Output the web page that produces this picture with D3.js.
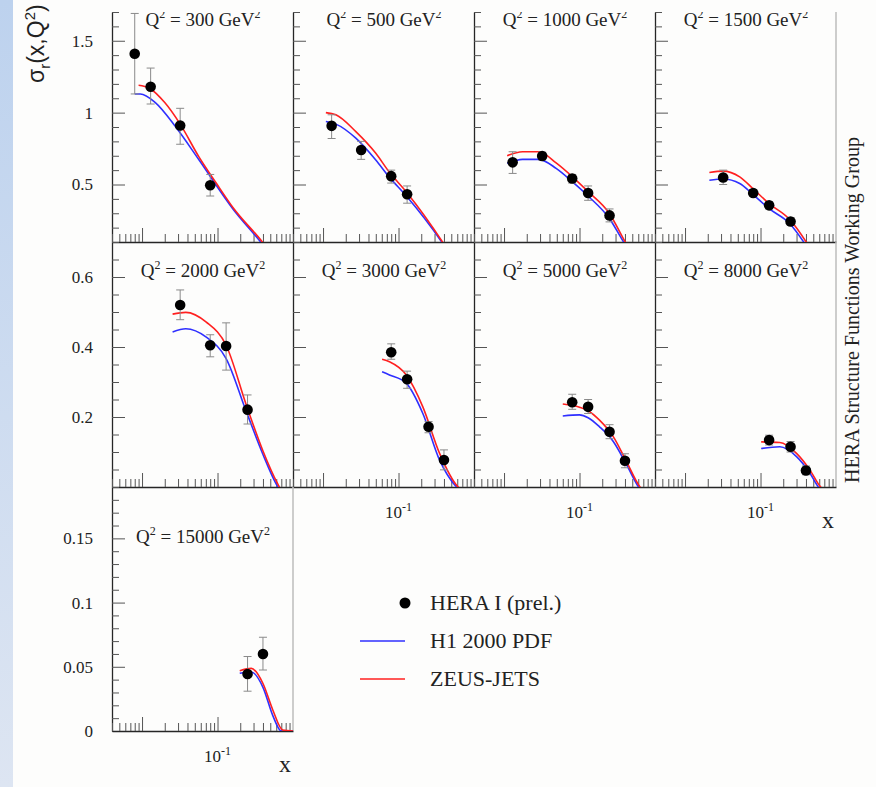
<!DOCTYPE html>
<html>
<head>
<meta charset="utf-8">
<script src="https://cdn.jsdelivr.net/npm/d3@7/dist/d3.min.js"></script>
<style>
  html, body { margin: 0; padding: 0; background: #fdfdfc; }
  svg { display: block; }
</style>
</head>
<body>
<svg id="chart" width="876" height="787"></svg>
<script>
(function () {
    // Q^2 per panel (GeV^2), in reading order
    var q2Values = [300, 500, 1000, 1500, 2000, 3000, 5000, 8000, 15000];

    // HERA I (prel.) points: [x, sigma_r, low end of error bar, high end]
    var heraPoints = [
        [[0.008, 1.41, 1.13, 1.69], [0.013, 1.18, 1.06, 1.31], [0.032, 0.91, 0.78, 1.03], [0.08, 0.495, 0.42, 0.57]],
        [[0.013, 0.908, 0.82, 0.985], [0.032, 0.74, 0.675, 0.80], [0.08, 0.558, 0.51, 0.60], [0.13, 0.432, 0.37, 0.49]],
        [[0.013, 0.654, 0.577, 0.728], [0.032, 0.698, 0.67, 0.725], [0.08, 0.542, 0.51, 0.57], [0.13, 0.441, 0.39, 0.49], [0.25, 0.285, 0.24, 0.33]],
        [[0.032, 0.549, 0.50, 0.60], [0.08, 0.441, 0.42, 0.465], [0.13, 0.355, 0.33, 0.38], [0.25, 0.243, 0.22, 0.27]],
        [[0.032, 0.52, 0.478, 0.563], [0.08, 0.405, 0.372, 0.435], [0.13, 0.403, 0.334, 0.469], [0.25, 0.221, 0.18, 0.263]],
        [[0.08, 0.385, 0.365, 0.409], [0.13, 0.308, 0.282, 0.331], [0.25, 0.172, 0.155, 0.187], [0.40, 0.077, 0.049, 0.106]],
        [[0.08, 0.242, 0.222, 0.265], [0.13, 0.229, 0.21, 0.25], [0.25, 0.158, 0.138, 0.178], [0.40, 0.075, 0.055, 0.095]],
        [[0.13, 0.134, 0.12, 0.148], [0.25, 0.115, 0.10, 0.13], [0.40, 0.047, 0.035, 0.06]],
        [[0.25, 0.0444, 0.031, 0.058], [0.40, 0.060, 0.0475, 0.073]]
    ];

    // H1 2000 PDF (blue): [x, sigma_r]
    var h1Curves = [
        [[0.008, 1.13], [0.0095, 1.13], [0.015, 1.07], [0.028, 0.90], [0.057, 0.67], [0.16, 0.33], [0.38, 0.095], [0.43, 0.06]],
        [[0.0109, 0.938], [0.0148, 0.92], [0.0272, 0.822], [0.05, 0.67], [0.075, 0.553], [0.127, 0.42], [0.38, 0.094], [0.42, 0.06]],
        [[0.011, 0.647], [0.0176, 0.675], [0.029, 0.675], [0.049, 0.612], [0.08, 0.52], [0.13, 0.42], [0.25, 0.262], [0.39, 0.094], [0.43, 0.06]],
        [[0.021, 0.53], [0.032, 0.538], [0.053, 0.507], [0.079, 0.432], [0.13, 0.332], [0.245, 0.227], [0.38, 0.094], [0.42, 0.06]],
        [[0.0254, 0.443], [0.038, 0.452], [0.071, 0.428], [0.13, 0.367], [0.24, 0.216], [0.40, 0.093], [0.6, 0.008], [0.67, -0.01]],
        [[0.0606, 0.329], [0.0759, 0.32], [0.127, 0.296], [0.21, 0.21], [0.35, 0.077], [0.58, 0.001], [0.65, -0.01]],
        [[0.06, 0.203], [0.1, 0.206], [0.13, 0.198], [0.184, 0.172], [0.28, 0.13], [0.41, 0.068], [0.6, 0.001], [0.65, -0.01]],
        [[0.102, 0.11], [0.18, 0.115], [0.30, 0.087], [0.45, 0.04], [0.58, 0.001], [0.65, -0.01]],
        [[0.197, 0.045], [0.28, 0.046], [0.40, 0.034], [0.54, 0.012], [0.7, 0], [1, 0]]
    ];

    // ZEUS-JETS (red)
    var zeusCurves = [
        [[0.009, 1.19], [0.0125, 1.17], [0.02, 1.07], [0.032, 0.92], [0.057, 0.69], [0.096, 0.51], [0.16, 0.34], [0.4, 0.095], [0.45, 0.06]],
        [[0.0109, 1.0], [0.0148, 0.985], [0.0272, 0.868], [0.05, 0.717], [0.075, 0.588], [0.127, 0.448], [0.39, 0.094], [0.43, 0.06]],
        [[0.011, 0.70], [0.0176, 0.728], [0.029, 0.728], [0.049, 0.65], [0.08, 0.555], [0.13, 0.45], [0.25, 0.297], [0.41, 0.094], [0.45, 0.06]],
        [[0.021, 0.584], [0.032, 0.593], [0.053, 0.553], [0.079, 0.472], [0.13, 0.367], [0.245, 0.255], [0.41, 0.094], [0.45, 0.06]],
        [[0.0254, 0.494], [0.038, 0.499], [0.071, 0.471], [0.13, 0.405], [0.24, 0.235], [0.40, 0.103], [0.63, 0.008], [0.7, -0.01]],
        [[0.0606, 0.365], [0.0759, 0.358], [0.127, 0.32], [0.21, 0.229], [0.35, 0.096], [0.61, 0.001], [0.7, -0.01]],
        [[0.06, 0.237], [0.1, 0.228], [0.13, 0.218], [0.184, 0.191], [0.28, 0.144], [0.41, 0.077], [0.63, 0.001], [0.7, -0.01]],
        [[0.102, 0.129], [0.18, 0.127], [0.30, 0.096], [0.45, 0.049], [0.62, 0.001], [0.7, -0.01]],
        [[0.197, 0.047], [0.28, 0.0488], [0.40, 0.037], [0.54, 0.0164], [0.73, 0.0008], [1, 0]]
    ];

    // y axes, one per panel row
    var yDomains = [[0.1, 1.7], [0, 0.7], [0, 0.19]];
    var yMajorTicks = [[0.5, 1, 1.5], [0.2, 0.4, 0.6], [0, 0.05, 0.1, 0.15]];
    var yTickLabels = [['0.5', '1', '1.5'], ['0.2', '0.4', '0.6'], ['0', '0.05', '0.1', '0.15']];
    var yMinorStep = [0.1, 0.05, 0.01];
    var xDomain = [0.004, 1];
    var xMajorTicks = [0.01, 0.1];

    var legendLabels = ['HERA I (prel.)', 'H1 2000 PDF', 'ZEUS-JETS'];
    var sideLabel = 'HERA Structure Functions Working Group';

    var BLUE = '#2f2fff', RED = '#ff2020', SERIF = 'Liberation Serif, Times New Roman, serif';

    // layout
    var colLeft = [112, 293, 474, 655];
    var panelW = 181;
    var rowTop = [12, 242, 487], rowBottom = [242, 487, 731];
    var titleY = [26, 277, 543];

    var svg = d3.select('#chart');

    // slide background strip on the left
    var defs = svg.append('defs');
    var grad = defs.append('linearGradient').attr('id', 'strip').attr('x1', 0).attr('y1', 0).attr('x2', 0).attr('y2', 1);
    grad.append('stop').attr('offset', '0%').attr('stop-color', '#bdd2ee');
    grad.append('stop').attr('offset', '100%').attr('stop-color', '#dde5f2');
    svg.append('rect').attr('x', 0).attr('y', 0).attr('width', 876).attr('height', 787).attr('fill', '#fdfdfc');
    svg.append('rect').attr('x', 0).attr('y', 0).attr('width', 13).attr('height', 787).attr('fill', 'url(#strip)');

    function fmtMinor(dom, step, majors) {
        var out = [];
        d3.range(Math.round(dom[0] / step), Math.round(dom[1] / step) + 1).forEach(function (k) {
            var v = +(k * step).toFixed(4);
            if (majors.indexOf(v) < 0) out.push(v);
        });
        return out;
    }

    q2Values.forEach(function (q2, i) {
        var row = Math.floor(i / 4), col = i % 4;
        var h = rowBottom[row] - rowTop[row];
        var x = d3.scaleLog().domain(xDomain).range([0, panelW]);
        var y = d3.scaleLinear().domain(yDomains[row]).range([h, 0]);

        var g = svg.append('g').attr('transform', 'translate(' + colLeft[col] + ',' + rowTop[row] + ')');

        defs.append('clipPath').attr('id', 'clip' + i)
            .append('rect').attr('x', 0).attr('y', 0).attr('width', panelW).attr('height', h);

        // grey right border on the outer panels
        if (col === 3 || i === 8) {
            g.append('line').attr('x1', panelW).attr('x2', panelW).attr('y1', 0).attr('y2', h)
                .attr('stroke', '#bdbdbd').attr('stroke-width', 1.5);
        }

        // left axis: major + minor ticks pointing inwards
        var majors = yMajorTicks[row];
        var yAx = g.append('g').attr('class', 'y-axis').call(
            d3.axisLeft(y).tickValues(majors).tickSize(-13).tickSizeOuter(0).tickPadding(19)
                .tickFormat(function (d, k) { return col === 0 ? yTickLabels[row][k] : ''; })
        );
        g.append('g').call(
            d3.axisLeft(y).tickValues(fmtMinor(yDomains[row], yMinorStep[row], majors)).tickSize(-7).tickFormat('')
        ).select('.domain').remove();

        // bottom axis (log)
        g.append('g').attr('transform', 'translate(0,' + h + ')').call(
            d3.axisBottom(x).tickValues(xMajorTicks).tickSize(-14).tickSizeOuter(0).tickFormat('')
        );
        var xMinor = x.ticks().filter(function (v) {
            return xMajorTicks.indexOf(v) < 0 && v < 0.99;
        });
        g.append('g').attr('transform', 'translate(0,' + h + ')').call(
            d3.axisBottom(x).tickValues(xMinor).tickSize(-8).tickFormat('')
        ).select('.domain').remove();

        g.selectAll('.domain').attr('stroke', '#262626').attr('stroke-width', 1.3);
        g.selectAll('.tick line').attr('stroke', '#555');
        yAx.selectAll('text').attr('font-family', SERIF).attr('font-size', 17).attr('fill', '#222');

        // 10^-1 label and "x" under the bottom panel of each column
        var isBottom = (row === 1 && col > 0) || i === 8;
        if (isBottom) {
            var lab = g.append('text').attr('x', x(0.1)).attr('y', h + 31)
                .attr('text-anchor', 'middle').attr('font-family', SERIF).attr('font-size', 17).attr('fill', '#222');
            lab.append('tspan').text('10');
            lab.append('tspan').attr('dy', -7).attr('font-size', 12).text('-1');
        }
        if (i === 7 || i === 8) {
            g.append('text').attr('x', panelW - 8).attr('y', h + 41)
                .attr('text-anchor', 'middle').attr('font-family', SERIF).attr('font-size', 24).attr('fill', '#222')
                .text('x');
        }

        var inner = g.append('g').attr('clip-path', 'url(#clip' + i + ')');

        // panel title (top row gets its superscripts clipped by the pad edge)
        var t = inner.append('text').attr('x', 91).attr('y', titleY[row] - rowTop[row])
            .attr('text-anchor', 'middle').attr('font-family', SERIF).attr('font-size', 19).attr('fill', '#222');
        t.append('tspan').text('Q');
        t.append('tspan').attr('dy', -8).attr('font-size', 12).text('2');
        t.append('tspan').attr('dy', 8).text(' = ' + q2 + ' GeV');
        t.append('tspan').attr('dy', -8).attr('font-size', 12).text('2');

        // model curves
        var line = d3.line()
            .x(function (d) { return x(d[0]); })
            .y(function (d) { return y(d[1]); })
            .curve(d3.curveMonotoneX);
        inner.append('path').datum(h1Curves[i]).attr('d', line)
            .attr('fill', 'none').attr('stroke', BLUE).attr('stroke-width', 1.6);
        inner.append('path').datum(zeusCurves[i]).attr('d', line)
            .attr('fill', 'none').attr('stroke', RED).attr('stroke-width', 1.6);

        // error bars + points
        var pts = g.append('g').selectAll('g').data(heraPoints[i]).join('g');
        pts.append('line')
            .attr('x1', function (d) { return x(d[0]); }).attr('x2', function (d) { return x(d[0]); })
            .attr('y1', function (d) { return y(d[2]); }).attr('y2', function (d) { return y(d[3]); })
            .attr('stroke', '#8a8a8a').attr('stroke-width', 1);
        [2, 3].forEach(function (k) {
            pts.append('line')
                .attr('x1', function (d) { return x(d[0]) - 4; }).attr('x2', function (d) { return x(d[0]) + 4; })
                .attr('y1', function (d) { return y(d[k]); }).attr('y2', function (d) { return y(d[k]); })
                .attr('stroke', '#8a8a8a').attr('stroke-width', 1);
        });
        pts.append('circle')
            .attr('cx', function (d) { return x(d[0]); }).attr('cy', function (d) { return y(d[1]); })
            .attr('r', 5.3).attr('fill', '#000');
    });

    // y title
    var yt = svg.append('text').attr('transform', 'translate(44,83) rotate(-90)')
        .attr('font-family', 'Liberation Sans, Arial, sans-serif').attr('font-size', 23).attr('fill', '#222');
    yt.append('tspan').text('σ');
    yt.append('tspan').attr('dy', 6).attr('font-size', 15).text('r');
    yt.append('tspan').attr('dy', -6).text('(x,Q');
    yt.append('tspan').attr('dy', -9).attr('font-size', 15).text('2');
    yt.append('tspan').attr('dy', 9).text(')');

    // side label
    svg.append('text').attr('transform', 'translate(859,310) rotate(-90)')
        .attr('text-anchor', 'middle').attr('font-family', SERIF).attr('font-size', 20).attr('fill', '#222')
        .text(sideLabel);

    // legend
    var lg = svg.append('g').attr('transform', 'translate(360,603)');
    var rows = lg.selectAll('g').data(legendLabels).join('g')
        .attr('transform', function (d, k) { return 'translate(0,' + (k * 38) + ')'; });
    rows.append('text').attr('x', 70).attr('y', 7)
        .attr('font-family', SERIF).attr('font-size', 22).attr('fill', '#222')
        .text(function (d) { return d; });
    rows.filter(function (d, k) { return k === 0; }).append('circle')
        .attr('cx', 45).attr('cy', 0).attr('r', 5.5).attr('fill', '#000');
    rows.filter(function (d, k) { return k > 0; }).append('line')
        .attr('x1', 0).attr('x2', 45).attr('y1', 0).attr('y2', 0)
        .attr('stroke', function (d, k) { return k === 0 ? BLUE : RED; }).attr('stroke-width', 1.6);
})();
</script>
</body>
</html>
